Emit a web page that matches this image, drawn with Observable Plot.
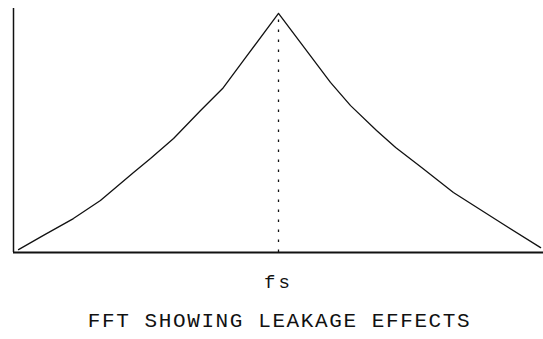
<!DOCTYPE html>
<html>
<head>
<meta charset="utf-8">
<script src="https://cdn.jsdelivr.net/npm/d3@7"></script>
<script src="https://cdn.jsdelivr.net/npm/@observablehq/plot@0.6"></script>
<style>
  html, body { margin: 0; padding: 0; background: #fff; }
  #chart { width: 543px; }
  #title {
    width: 543px; box-sizing: border-box; padding-left: 16px;
    text-align: center; font-family: "Liberation Mono", monospace;
    font-size: 21px; line-height: 20px; letter-spacing: 1.6px; color: #111;
    margin-top: 12px;
  }
</style>
</head>
<body>
<div id="chart"></div>
<div id="title">FFT SHOWING LEAKAGE EFFECTS</div>
<script>
// Frequency offset from fs (normalised, -1 … 1) and relative amplitude
const freq = [-0.981, -0.887, -0.774, -0.672, -0.547, -0.483, -0.396, -0.294, -0.211, -0.132, 0,
              0.196, 0.272, 0.370, 0.442, 0.540, 0.660, 0.826, 0.989];
const amp  = [0.012, 0.070, 0.139, 0.213, 0.328, 0.385, 0.467, 0.582, 0.672, 0.787, 0.98,
              0.697, 0.602, 0.500, 0.430, 0.348, 0.246, 0.131, 0.020];
const tickValues = [0];
const tickLabels = ["fs"];
const peakFreq = 0;
const peakAmp = 0.98;

const data = freq.map((f, i) => ({f, a: amp[i]}));

const chart = Plot.plot({
  width: 543,
  height: 300,
  marginLeft: 13,
  marginRight: 0,
  marginTop: 8,
  marginBottom: 48,
  style: {fontFamily: "Liberation Mono, monospace", letterSpacing: "3px", color: "#111", background: "#fff"},
  x: {domain: [-1, 1], axis: null},
  y: {domain: [0, 1], axis: null},
  marks: [
    Plot.ruleX([-1], {y1: 0, y2: 1, stroke: "#111", strokeWidth: 1.5}),
    Plot.ruleY([0], {x1: -1, x2: 1, stroke: "#111", strokeWidth: 2.2}),
    Plot.ruleX([peakFreq], {y1: 0, y2: peakAmp, stroke: "#111", strokeWidth: 1.3, strokeDasharray: "2.5,7.5"}),
    Plot.line(data, {x: "f", y: "a", stroke: "#111", strokeWidth: 1.3}),
    Plot.axisX(tickValues, {
      tickFormat: (d) => tickLabels[tickValues.indexOf(d)],
      tickSize: 0, tickPadding: 22, fontSize: 19, label: null, stroke: "none", fill: "#111"
    })
  ]
});
document.getElementById("chart").append(chart);
</script>
</body>
</html>
